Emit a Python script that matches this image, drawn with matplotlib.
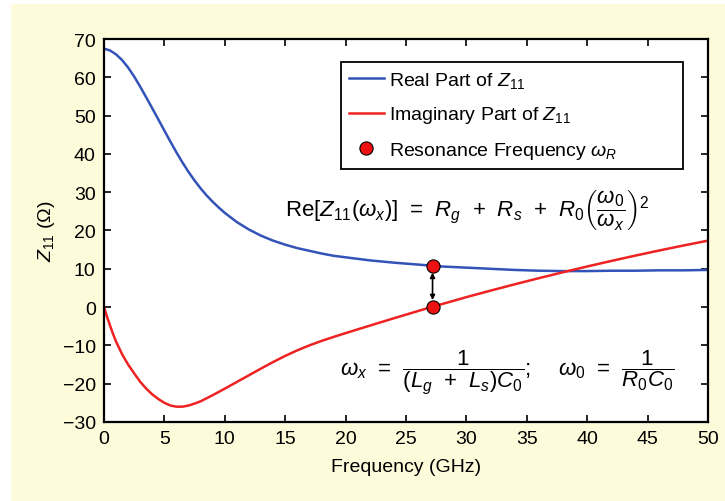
import matplotlib
matplotlib.use('Agg')
import matplotlib.pyplot as plt
from matplotlib.patches import Rectangle

# frequency (GHz) and Z11 (Ohm)
freq_re = [0, 0.5, 1.0, 1.5, 2.0, 2.5, 3.0, 3.5, 4.0, 4.5, 5.0, 5.5, 6.0, 6.5, 7.0,
           7.5, 8.0, 8.5, 9.0, 9.5, 10, 11, 12, 13, 14, 15, 16, 17, 18, 19, 20,
           22, 24, 26, 28, 30, 32, 34, 36, 38, 40, 42, 44, 46, 48, 50]
z_real = [67.5, 67.0, 66.0, 64.5, 62.55, 60.2, 57.55, 54.75, 51.9, 49.0, 46.1, 43.2,
          40.4, 37.75, 35.3, 33.05, 31.0, 29.15, 27.5, 26.0, 24.6, 22.2, 20.25, 18.65,
          17.35, 16.3, 15.4, 14.7, 14.0, 13.4, 13.0, 12.2, 11.6, 11.1, 10.6, 10.3,
          10.0, 9.7, 9.5, 9.4, 9.4, 9.5, 9.5, 9.6, 9.6, 9.7]

freq_im = [0, 0.25, 0.5, 0.75, 1.0, 1.5, 2.0, 2.5, 3.0, 3.5, 4.0, 4.5, 5.0, 5.5,
           6.0, 6.5, 7.0, 7.5, 8.0, 9, 10, 11, 12, 13, 14, 15, 16, 17, 18, 19, 20,
           21, 22, 23, 24, 25, 26, 27.2, 28, 30, 32, 34, 36, 38, 40, 42, 44, 46, 48, 50]
z_imag = [0, -2.5, -4.8, -7.0, -9.0, -12.3, -15.0, -17.3, -19.5, -21.3, -22.8,
          -24.0, -25.0, -25.7, -26.0, -26.0, -25.7, -25.2, -24.6, -23.0, -21.3,
          -19.55, -17.8, -16.05, -14.35, -12.75, -11.3, -10.0, -8.85, -7.8, -6.8,
          -5.82, -4.85, -3.88, -2.92, -1.97, -1.03, 0.1, 0.8, 2.6, 4.3, 5.95, 7.55,
          9.1, 10.6, 12.05, 13.45, 14.8, 16.1, 17.35]

res_freq = [27.2, 27.2]
res_z = [10.8, 0.0]

plt.rcParams['font.family'] = ['Liberation Sans', 'DejaVu Sans']
plt.rcParams['mathtext.fontset'] = 'custom'
plt.rcParams['mathtext.rm'] = 'Liberation Sans'
plt.rcParams['mathtext.it'] = 'Liberation Sans:italic'
plt.rcParams['mathtext.bf'] = 'Liberation Sans:bold'

fig = plt.figure(figsize=(7.25, 5.02), dpi=100, facecolor='#fdfbda')
fig.patches.append(Rectangle((0, 1 - 4 / 502), 1, 4 / 502, transform=fig.transFigure,
                             color='white', zorder=0))
fig.patches.append(Rectangle((0, 0), 10 / 725, 1, transform=fig.transFigure,
                             color='white', zorder=0))
ax = fig.add_axes([0.1434, 0.1574, 0.8331, 0.7629])
ax.set_facecolor('white')

ax.plot(freq_re, z_real, color='#3353b8', lw=1.8, label='Real Part of $Z_{11}$')
ax.plot(freq_im, z_imag, color='#ee2222', lw=1.8, label='Imaginary Part of $Z_{11}$')
ax.annotate('', xy=(res_freq[1], res_z[1]), xytext=(res_freq[0], res_z[0]),
            arrowprops=dict(arrowstyle='<|-|>', color='k', lw=1.2, mutation_scale=7,
                            shrinkA=5, shrinkB=5), zorder=3)
ax.plot(res_freq, res_z, 'o', ms=9.5, mfc='#ee1111', mec='k', mew=0.8, zorder=4,
        label=r'Resonance Frequency $\omega_R$')

ax.set_xlim(0, 50)
ax.set_ylim(-30, 70)
ax.set_xticks(range(0, 51, 5))
ax.set_yticks(range(-30, 71, 10))
ax.set_yticklabels([str(v).replace('-', '\u2212') for v in range(-30, 71, 10)])
ax.tick_params(direction='in', top=True, right=True, length=5, width=1.2,
               labelsize=14, pad=6)
for s in ax.spines.values():
    s.set_linewidth(1.6)

ax.set_xlabel('Frequency (GHz)', fontsize=14, labelpad=8)
ax.set_ylabel('$Z_{11}$ (\u03a9)', fontsize=14, labelpad=4)

leg = ax.legend(loc='upper left', bbox_to_anchor=(0.392, 0.661, 0.567, 0.279),
                mode='expand', fontsize=14, frameon=True, fancybox=False,
                edgecolor='k', framealpha=1, numpoints=1, handlelength=1.8,
                handletextpad=0.3, labelspacing=0.75, borderpad=0.4,
                borderaxespad=0)
leg.get_frame().set_linewidth(1.3)

sp = r'\;\,'
ax.text(15.0, 23.5,
        r'$\mathrm{Re}[Z_{11}(\omega_x)]' + sp + '=' + sp + r'R_g' + sp + '+' + sp
        + r'R_s' + sp + '+' + sp + r'R_0\left(\dfrac{\omega_0}{\omega_x}\right)^2$',
        fontsize=16, ha='left', va='baseline')
ax.text(19.5, -17.0,
        r'$\omega_x' + sp + '=' + sp + r'\dfrac{1}{(L_g' + sp + '+' + sp
        + r'L_s)C_0};\quad\;\omega_0' + sp + '=' + sp + r'\dfrac{1}{R_0C_0}$',
        fontsize=16, ha='left', va='center')

fig.savefig('out.png', dpi=100, facecolor=fig.get_facecolor())
